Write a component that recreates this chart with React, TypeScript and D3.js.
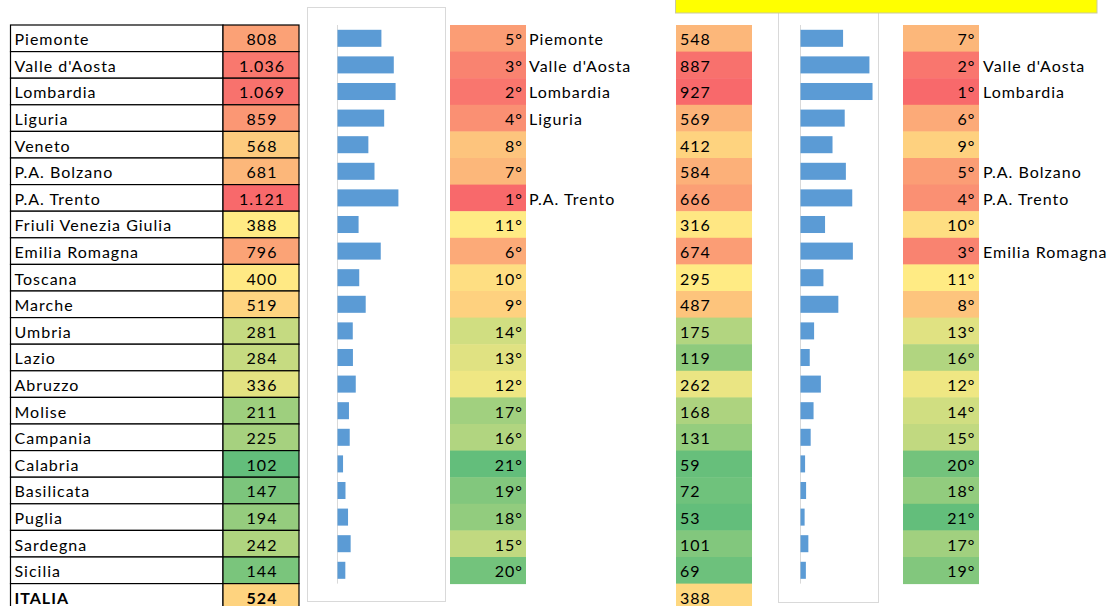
import React from 'react';
import * as d3 from 'd3';

// regions, in table order
const regions = [
  'Piemonte', "Valle d'Aosta", 'Lombardia', 'Liguria', 'Veneto', 'P.A. Bolzano', 'P.A. Trento',
  'Friuli Venezia Giulia', 'Emilia Romagna', 'Toscana', 'Marche', 'Umbria', 'Lazio', 'Abruzzo',
  'Molise', 'Campania', 'Calabria', 'Basilicata', 'Puglia', 'Sardegna', 'Sicilia',
];
const totalLabel = 'ITALIA';

// first block
const values1 = [808, 1036, 1069, 859, 568, 681, 1121, 388, 796, 400, 519, 281, 284, 336, 211, 225, 102, 147, 194, 242, 144];
const total1 = 524;
const ranks1 = [5, 3, 2, 4, 8, 7, 1, 11, 6, 10, 9, 14, 13, 12, 17, 16, 21, 19, 18, 15, 20];

// second block
const values2 = [548, 887, 927, 569, 412, 584, 666, 316, 674, 295, 487, 175, 119, 262, 168, 131, 59, 72, 53, 101, 69];
const total2 = 388;
const ranks2 = [7, 2, 1, 6, 9, 5, 4, 10, 3, 11, 8, 13, 16, 12, 14, 15, 20, 18, 21, 17, 19];

const W = 1110;
const H = 606;
const FONT = 'Lato, "Open Sans", sans-serif';

// Excel-like 3 colour scale: low green, median yellow, high red
const heat = (vals: number[]) =>
  d3.scaleLinear<string>()
    .domain([d3.min(vals)!, d3.median(vals)!, d3.max(vals)!])
    .range(['#63BE7B', '#FFEB84', '#F8696B'])
    .interpolate(d3.interpolateRgb)
    .clamp(true);

const rankHeat = d3.scaleLinear<string>()
  .domain([21, 11, 1])
  .range(['#63BE7B', '#FFEB84', '#F8696B'])
  .interpolate(d3.interpolateRgb);

const App = () => {
  const rowsAll = [...regions, totalLabel];
  const step = 26.6;
  const top = 25;
  const y = d3.scaleBand().domain(rowsAll).range([top, top + rowsAll.length * step]);
  const yBar = d3.scaleBand().domain(regions)
    .range([top, top + regions.length * step]).paddingInner(0.36).paddingOuter(0.18);

  const x1 = d3.scaleLinear().domain([0, 1200]).range([337.5, 402.7]);
  const x2 = d3.scaleLinear().domain([0, 1000]).range([800.5, 878.2]);
  const c1 = heat(values1);
  const c2 = heat(values2);

  const txt = { fontFamily: FONT, fontSize: 16, fill: '#000', letterSpacing: 1 } as const;
  const base = (r: string) => y(r)! + y.bandwidth() - 6.5;

  return (
    <svg width={W} height={H} style={{ position: 'absolute', left: 0, top: 0, background: '#fff' }}>
      {/* left table */}
      {rowsAll.map((r, i) => {
        const isTot = r === totalLabel;
        const v = isTot ? total1 : values1[i];
        return (
          <g key={'t' + r}>
            <rect x={10.5} y={y(r)} width={212.5} height={y.bandwidth()} fill="#fff" stroke="#000" strokeWidth={1.2} />
            <rect x={223} y={y(r)} width={76} height={y.bandwidth()} fill={c1(v)} stroke="#000" strokeWidth={1.2} />
            <text x={14.5} y={base(r)} {...txt} fontWeight={isTot ? 700 : 400}>{r}</text>
            <text x={262} y={base(r)} textAnchor="middle" {...txt} fontWeight={isTot ? 700 : 400}>
              {d3.format(',')(v).replace(/,/g, '.')}
            </text>
          </g>
        );
      })}

      {/* first bar chart */}
      <rect x={307.5} y={7.5} width={138} height={594} fill="#fff" stroke="#d9d9d9" />
      <line x1={x1(0)} x2={x1(0)} y1={yBar.range()[0]} y2={yBar.range()[1]} stroke="#d9d9d9" />
      {regions.map((r, i) => (
        <rect key={'b1' + r} x={x1(0)} y={yBar(r)} width={x1(values1[i]) - x1(0)} height={yBar.bandwidth()} fill="#5B9BD5" />
      ))}

      {/* first ranks */}
      {regions.map((r, i) => (
        <g key={'r1' + r}>
          <rect x={450} y={y(r)} width={76} height={y.bandwidth() + 0.5} fill={rankHeat(ranks1[i])} />
          <text x={523} y={base(r)} textAnchor="end" {...txt}>{ranks1[i]}°</text>
          {ranks1[i] <= 5 && <text x={529} y={base(r)} {...txt}>{r}</text>}
        </g>
      ))}

      {/* second values */}
      {rowsAll.map((r, i) => {
        const v = r === totalLabel ? total2 : values2[i];
        return (
          <g key={'v2' + r}>
            <rect x={676} y={y(r)} width={76} height={y.bandwidth() + 0.5} fill={c2(v)} />
            <text x={680} y={base(r)} {...txt}>{v}</text>
          </g>
        );
      })}

      {/* second bar chart */}
      <rect x={778.5} y={7.5} width={100} height={595} fill="#fff" stroke="#d9d9d9" />
      <line x1={x2(0)} x2={x2(0)} y1={yBar.range()[0]} y2={yBar.range()[1]} stroke="#d9d9d9" />
      {regions.map((r, i) => (
        <rect key={'b2' + r} x={x2(0)} y={yBar(r)} width={x2(values2[i]) - x2(0)} height={yBar.bandwidth()} fill="#5B9BD5" />
      ))}

      {/* second ranks */}
      {regions.map((r, i) => (
        <g key={'r2' + r}>
          <rect x={903} y={y(r)} width={76} height={y.bandwidth() + 0.5} fill={rankHeat(ranks2[i])} />
          <text x={975.5} y={base(r)} textAnchor="end" {...txt}>{ranks2[i]}°</text>
          {ranks2[i] <= 5 && <text x={983} y={base(r)} {...txt}>{r}</text>}
        </g>
      ))}

      {/* yellow header band */}
      <rect x={675.5} y={-1} width={421.5} height={14} fill="#FFFF00" stroke="#c9c9a0" />
    </svg>
  );
};

export default App;
